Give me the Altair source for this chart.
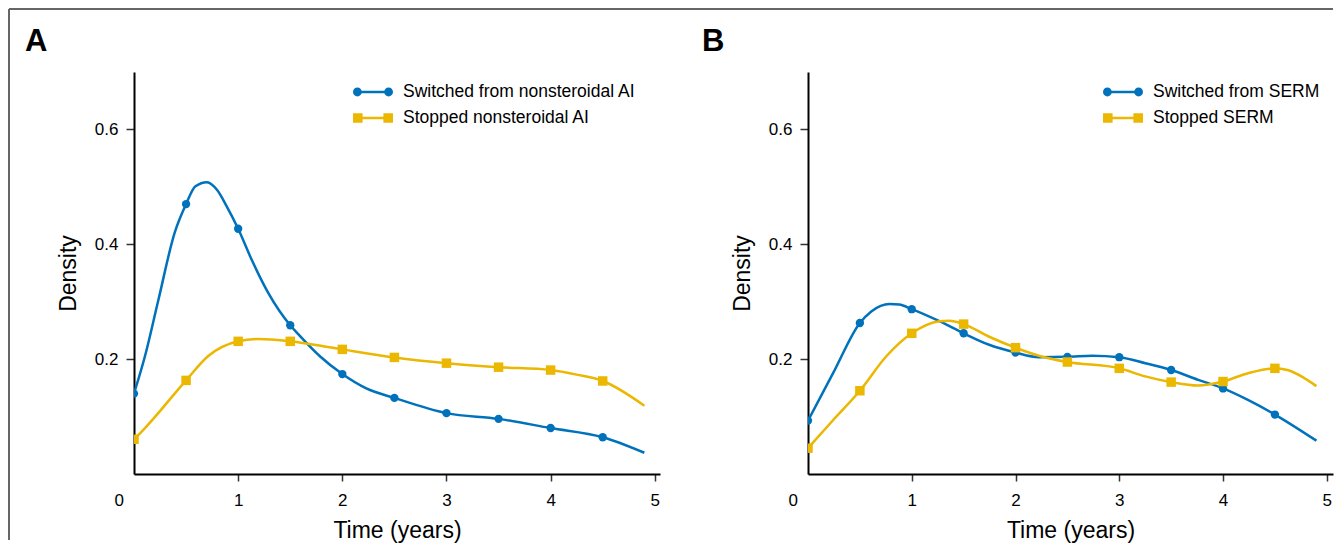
import altair as alt
import pandas as pd

FONT = "Liberation Sans"
BLUE = "#0072BC"
YELLOW = "#EBB700"

MARKER_T = [0.0, 0.5, 1.0, 1.5, 2.0, 2.5, 3.0, 3.5, 4.0, 4.5]
X_TICKS = [0, 1, 2, 3, 4, 5]
Y_TICKS = [0.2, 0.4, 0.6]

# ---------------- Panel A ----------------
A_NAMES = ["Switched from nonsteroidal AI", "Stopped nonsteroidal AI"]
A_SW_T = [0.0, 0.105, 0.234, 0.39, 0.5, 0.59, 0.70, 0.80, 0.89, 1.0, 1.13, 1.29,
          1.5, 1.59, 1.785, 2.0, 2.23, 2.5, 3.0, 3.5, 4.0, 4.5, 4.9]
A_SW_D = [0.140, 0.205, 0.303, 0.420, 0.470, 0.501, 0.508, 0.494, 0.466, 0.427, 0.373, 0.315,
          0.259, 0.241, 0.205, 0.174, 0.149, 0.1325, 0.106, 0.096, 0.080, 0.064, 0.037]
A_ST_T = [0.0, 0.09, 0.5, 0.71, 1.0, 1.19, 1.5, 1.83, 2.0, 2.5, 3.0, 3.5, 4.0, 4.25, 4.5, 4.9]
A_ST_D = [0.0605, 0.077, 0.163, 0.205, 0.231, 0.235, 0.231, 0.222, 0.217, 0.203, 0.193,
          0.186, 0.181, 0.173, 0.162, 0.119]
A_SW_M = [0.140, 0.470, 0.427, 0.259, 0.174, 0.1325, 0.106, 0.096, 0.080, 0.064]
A_ST_M = [0.0605, 0.163, 0.231, 0.231, 0.217, 0.203, 0.193, 0.186, 0.181, 0.162]

# ---------------- Panel B ----------------
B_NAMES = ["Switched from SERM", "Stopped SERM"]
B_SW_T = [0.0, 0.243, 0.5, 0.61, 0.787, 0.88, 1.0, 1.266, 1.5, 1.746, 2.0, 2.225, 2.5,
          2.737, 3.0, 3.25, 3.5, 3.76, 4.0, 4.24, 4.5, 4.9]
B_SW_D = [0.093, 0.176, 0.263, 0.283, 0.296, 0.295, 0.287, 0.266, 0.245, 0.225, 0.2115,
          0.2034, 0.204, 0.206, 0.2034, 0.193, 0.181, 0.164, 0.149, 0.129, 0.1035, 0.058]
B_ST_T = [0.0, 0.243, 0.5, 0.755, 1.0, 1.266, 1.362, 1.5, 1.746, 2.0, 2.225, 2.5, 3.0,
          3.25, 3.5, 3.76, 4.0, 4.24, 4.5, 4.62, 4.9]
B_ST_D = [0.045, 0.094, 0.145, 0.205, 0.245, 0.266, 0.267, 0.261, 0.239, 0.220, 0.206,
          0.195, 0.184, 0.170, 0.160, 0.154, 0.161, 0.1755, 0.184, 0.181, 0.153]
B_SW_M = [0.093, 0.263, 0.287, 0.245, 0.2115, 0.204, 0.2034, 0.181, 0.149, 0.1035]
B_ST_M = [0.045, 0.145, 0.245, 0.261, 0.220, 0.195, 0.184, 0.160, 0.161, 0.184]

# legend key symbols: line with a marker at each end (unit square paths)
KEY_CIRCLE = ("M-0.78,-0.06H0.78V0.06H-0.78Z "
              "M-1,0A0.22,0.22 0 1,1 -0.56,0A0.22,0.22 0 1,1 -1,0Z "
              "M0.56,0A0.22,0.22 0 1,1 1,0A0.22,0.22 0 1,1 0.56,0Z")
KEY_SQUARE = ("M-0.76,-0.06H0.76V0.06H-0.76Z "
              "M-1,-0.24H-0.52V0.24H-1Z "
              "M0.52,-0.24H1V0.24H0.52Z")

HEIGHT = 402


def df(t, d):
    return pd.DataFrame({"t": t, "d": d})


def panel(letter, names, sw_t, sw_d, st_t, st_d, sw_m, st_m,
          width, xmax, legend_x, letter_x, frame):
    xenc = alt.X(
        "t:Q",
        scale=alt.Scale(domain=[0, xmax], nice=False, zero=False),
        axis=alt.Axis(
            values=X_TICKS, format="d", title="Time (years)",
            tickSize=7, labelPadding=11.5, titlePadding=11,
            labelOffset={"condition": {"test": "datum.value === 0", "value": -20}, "value": 0},
            tickOpacity={"condition": {"test": "datum.value === 0", "value": 0}, "value": 1},
        ),
    )
    yenc = alt.Y(
        "d:Q",
        scale=alt.Scale(domain=[0, 0.7], nice=False, zero=False),
        axis=alt.Axis(values=Y_TICKS, format=".1f", title="Density",
                      tickSize=8, labelPadding=8, titlePadding=14),
    )
    line_sw = alt.Chart(df(sw_t, sw_d)).mark_line(
        color=BLUE, strokeWidth=2.5, interpolate="monotone", clip=True
    ).encode(x=xenc, y=yenc)
    pts_sw = alt.Chart(df(MARKER_T, sw_m)).mark_point(
        shape="circle", filled=True, color=BLUE, size=70, opacity=1, clip=True
    ).encode(x=xenc, y=yenc)
    line_st = alt.Chart(df(st_t, st_d)).mark_line(
        color=YELLOW, strokeWidth=2.5, interpolate="monotone", clip=True
    ).encode(x=xenc, y=yenc)
    pts_st = alt.Chart(df(MARKER_T, st_m)).mark_point(
        shape="square", filled=True, color=YELLOW, size=90, opacity=1, clip=True
    ).encode(x=xenc, y=yenc)

    leg = alt.Legend(
        orient="none", legendX=legend_x, legendY=7, title=None, padding=0,
        symbolSize=1600, symbolStrokeWidth=0, symbolOpacity=1,
        labelFontSize=17.5, labelFont=FONT, labelColor="black",
        labelOffset=10, rowPadding=0, clipHeight=26, labelLimit=500,
    )
    key = alt.Chart(pd.DataFrame({"series": names})).transform_filter("false").mark_point(
        filled=True, opacity=1, strokeWidth=0
    ).encode(
        color=alt.Color("series:N", scale=alt.Scale(domain=names, range=[BLUE, YELLOW]), legend=leg),
        shape=alt.Shape("series:N", scale=alt.Scale(domain=names, range=[KEY_CIRCLE, KEY_SQUARE]), legend=leg),
    )

    one = pd.DataFrame({"k": [0]})
    label = alt.Chart(one).mark_text(
        text=letter, font=FONT, fontSize=31, fontWeight="bold",
        align="left", baseline="alphabetic", color="black"
    ).encode(x=alt.value(letter_x), y=alt.value(-21))

    layers = [line_sw, pts_sw, line_st, pts_st, key, label]
    if frame:
        left_rule = alt.Chart(one).mark_rule(color="#666666", strokeWidth=2).encode(
            x=alt.value(-125), y=alt.value(-63), y2=alt.value(468))
        top_rule = alt.Chart(one).mark_rule(color="#666666", strokeWidth=2).encode(
            y=alt.value(-63), x=alt.value(-125), x2=alt.value(1199))
        layers += [left_rule, top_rule]
    return alt.layer(*layers).properties(width=width, height=HEIGHT)


chart_a = panel("A", A_NAMES, A_SW_T, A_SW_D, A_ST_T, A_ST_D, A_SW_M, A_ST_M,
                width=526, xmax=5.05, legend_x=219, letter_x=-109, frame=True)
chart_b = panel("B", B_NAMES, B_SW_T, B_SW_D, B_ST_T, B_ST_D, B_SW_M, B_ST_M,
                width=525, xmax=5.06, legend_x=295, letter_x=-106, frame=False)

chart = (
    alt.hconcat(chart_a, chart_b, spacing=148, bounds="flush")
    .resolve_scale(color="independent", shape="independent", x="independent", y="independent")
    .resolve_legend(color="independent", shape="independent")
    .properties(padding={"left": 0, "top": 0, "right": 0, "bottom": 0}, background="white")
    .configure(font=FONT)
    .configure_view(stroke=None)
    .configure_axis(
        grid=False, domainColor="black", domainWidth=2,
        tickColor="#333333", tickWidth=1.5,
        labelFont=FONT, titleFont=FONT, labelFontSize=17, titleFontSize=23,
        titleFontWeight="normal", labelColor="black", titleColor="black",
    )
)

chart.save("out.html", embed_options={"renderer": "svg", "actions": False})
